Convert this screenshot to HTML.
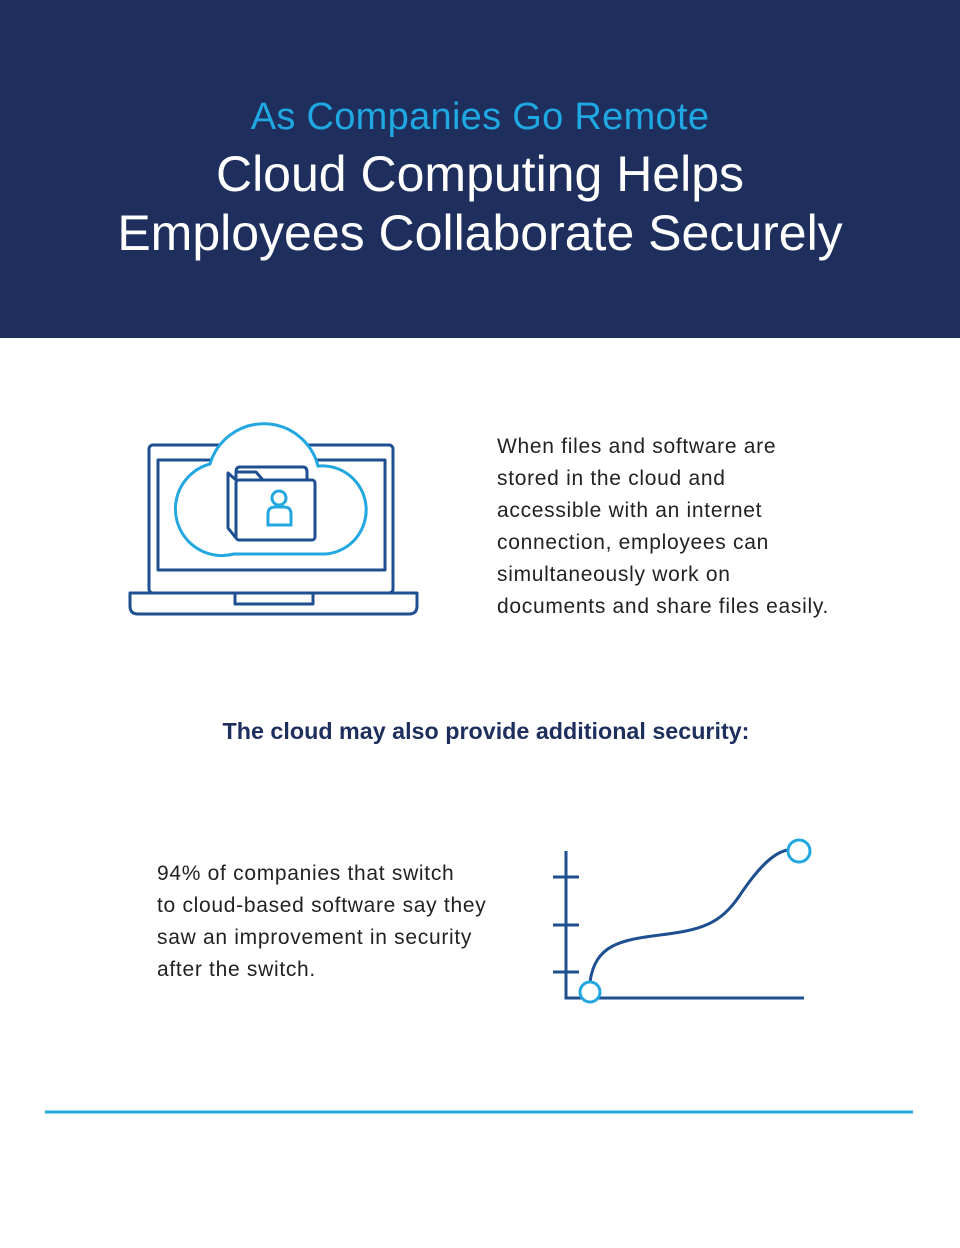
<!DOCTYPE html>
<html><head><style>
body{margin:0;width:960px;height:1248px;background:#fff;font-family:"Liberation Sans",sans-serif;position:relative;overflow:hidden}
.hdr{position:absolute;left:0;top:0;width:960px;height:338px;background:#1e2f5e}
.t{position:absolute;left:0;width:960px;text-align:center;white-space:nowrap}
.p{position:absolute;font-size:21px;line-height:32px;color:#222;letter-spacing:0.7px;white-space:nowrap}
</style></head><body>
<div class="hdr"></div>
<div class="t" style="top:96px;font-size:38px;color:#1fa8e1;letter-spacing:0.3px">As Companies Go Remote</div>
<div class="t" style="top:145px;font-size:50px;color:#fff">Cloud Computing Helps</div>
<div class="t" style="top:204px;font-size:50px;color:#fff">Employees Collaborate Securely</div>

<svg style="position:absolute;left:0;top:0" width="960" height="1248">
<g fill="none" stroke="#1d4f91" stroke-width="3" stroke-linejoin="round">
<rect x="149" y="445" width="244" height="148" rx="4"/>
<rect x="158" y="460" width="227" height="110"/>
<path d="M130,593 H417 V606 Q417,614 409,614 H138 Q130,614 130,606 Z"/>
<rect x="235" y="593" width="78" height="11"/>
</g>
<path d="M234,554 H326 A44,44 0 0 0 318,466 A56,56 0 0 0 210,464 A45,45 0 0 0 234,554 Z" fill="#fff" stroke="#22a7e0" stroke-width="3"/>
<g fill="none" stroke="#1d4f91" stroke-width="3" stroke-linejoin="round">
<path d="M236,480 V472 Q236,467 240,467 H303 Q307,467 307,472 V480"/>
<path d="M236,474 V472 H256 L263,480"/>
<rect x="236" y="480" width="79" height="60" rx="3"/>
<path d="M236,480 L228,473 V528 L236,538"/>
</g>
<g fill="none" stroke="#22a7e0" stroke-width="3">
<circle cx="279" cy="498" r="7"/>
<path d="M268,525 V514 Q268,507 275,507 H284 Q291,507 291,514 V525 Z"/>
</g>
<g fill="none" stroke="#1d4f91" stroke-width="3">
<path d="M566,851 V998 H804"/>
<path d="M553,877 H579 M553,925 H579 M553,972 H579"/>
<path d="M590,982 C595,945 620,940 660,935 C700,930 720,925 740,895 C760,865 775,852 788,850"/>
</g>
<g fill="#fff" stroke="#22a7e0" stroke-width="3">
<circle cx="590" cy="992" r="10"/>
<circle cx="799" cy="851" r="11"/>
</g>
<line x1="45" y1="1112" x2="913" y2="1112" stroke="#22a7e0" stroke-width="3"/>
</svg>

<div class="p" style="left:497px;top:431px">When files and software are<br>stored in the cloud and<br>accessible with an internet<br>connection, employees can<br>simultaneously work on<br>documents and share files easily.</div>
<div class="t" style="top:718px;font-size:23.3px;font-weight:bold;color:#1e2f5e;padding-left:6px">The cloud may also provide additional security:</div>
<div class="p" style="left:157px;top:858px">94% of companies that switch<br>to cloud-based software say they<br>saw an improvement in security<br>after the switch.</div>
</body></html>
